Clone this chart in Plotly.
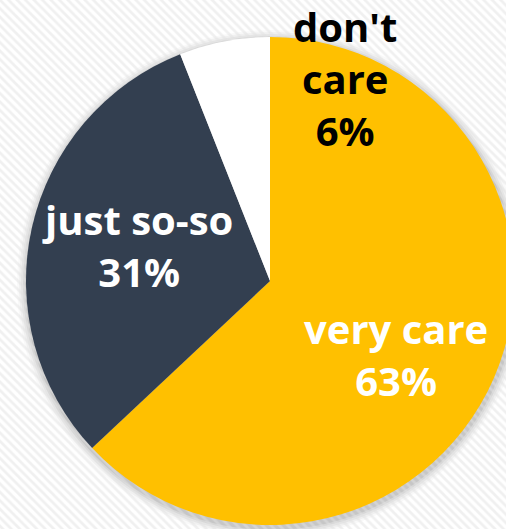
import plotly.graph_objects as go

# ---- data ----
categories = ["very care", "just so-so", "don't care"]
values = [63, 31, 6]
colors = ["#FFC000", "#333F50", "#FFFFFF"]
label_colors = ["#FFFFFF", "#FFFFFF", "#000000"]

# ---- layout geometry (pixels) ----
W, H = 520, 529          # page window is 506 wide; pie overflows right edge as in the reference
CX, CY, R = 270, 281, 244  # pie centre (from top-left) and radius

def fx(px):
    return px / W

def fy(py):
    return 1 - py / H

fig = go.Figure()

# striped background (pattern fill over the whole paper)
fig.add_trace(go.Scatter(
    x=[0, 1, 1, 0, 0], y=[0, 0, 1, 1, 0],
    mode="lines", fill="toself", line=dict(width=0),
    fillcolor="rgba(0,0,0,0)",
    fillpattern=dict(shape="\\", fgcolor="#e2e2e2", bgcolor="rgba(0,0,0,0)",
                     size=6, solidity=0.45, fillmode="overlay"),
    hoverinfo="skip", showlegend=False,
))

fig.add_trace(go.Pie(
    labels=categories, values=values,
    marker=dict(colors=colors, line=dict(width=0)),
    sort=False, direction="clockwise", rotation=0,
    textinfo="none", hoverinfo="label+percent", showlegend=False,
    domain=dict(x=[fx(CX - R), fx(CX + R)], y=[fy(CY + R), fy(CY - R)]),
))

# soft shadow around the pie
shapes = []
for grow, op in [(10, 0.025), (8, 0.035), (6, 0.045), (4, 0.06), (2, 0.08)]:
    shapes.append(dict(
        type="circle", layer="below", xref="paper", yref="paper",
        xsizemode="pixel", ysizemode="pixel",
        xanchor=fx(CX + 1), yanchor=fy(CY + 3),
        x0=-(R + grow), x1=R + grow, y0=-(R + grow), y1=R + grow,
        fillcolor=f"rgba(0,0,0,{op})", line=dict(width=0),
    ))

# labels
total = sum(values)
label_pos = [(396, 354), (137, 245), (345, 79)]
annotations = []
for cat, val, col, (px, py) in zip(categories, values, label_colors, label_pos):
    name = cat.replace("don't ", "don't<br>")
    annotations.append(dict(
        text=f"{name}<br>{round(val / total * 100)}%",
        x=fx(px), y=fy(py), xref="paper", yref="paper",
        xanchor="center", yanchor="middle", showarrow=False,
        font=dict(family="Open Sans", size=40, color=col, weight=700),
        align="center",
    ))

fig.update_layout(
    width=W, height=H, margin=dict(l=0, r=0, t=0, b=0),
    paper_bgcolor="#FFFFFF", plot_bgcolor="rgba(0,0,0,0)",
    xaxis=dict(range=[0, 1], visible=False, domain=[0, 1], fixedrange=True),
    yaxis=dict(range=[0, 1], visible=False, domain=[0, 1], fixedrange=True),
    shapes=shapes, annotations=annotations,
)

fig.write_html(
    "out.html",
    config={"displayModeBar": False},
    post_script="document.body.style.margin='0';document.body.style.overflow='hidden';",
)
